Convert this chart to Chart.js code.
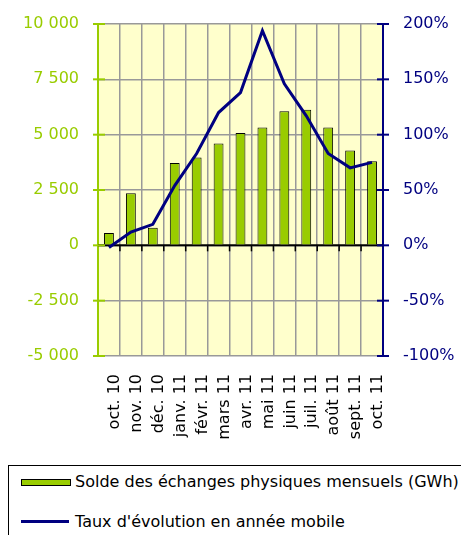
<!DOCTYPE html>
<html><head><meta charset="utf-8">
<script src="https://cdn.jsdelivr.net/npm/chart.js@4"></script>
<style>
html,body{margin:0;padding:0;background:#fff;overflow:hidden}
#wrap{position:relative;width:461px;height:535px}
#c{position:absolute;left:0;top:0}
#legend{position:absolute;left:8px;top:465px;width:470px;height:90px;border:1px solid #000;box-sizing:border-box;background:#fff;font-family:"DejaVu Sans",sans-serif;font-size:16px;color:#000}
.lab{position:absolute;left:66px;white-space:nowrap;line-height:20px}
.sw1{position:absolute;left:12px;top:13px;width:48px;height:5px;background:#99CC00;border:1px solid #000;box-sizing:content-box}
.sw2{position:absolute;left:12px;top:54px;width:48px;height:3px;background:#000080}
</style></head>
<body><div id="wrap"><canvas id="c" width="461" height="535"></canvas>
<div id="legend"><div class="sw1"></div><div class="lab" id="l1" style="top:6px"></div><div class="sw2"></div><div class="lab" id="l2" style="top:46px"></div></div></div>
<script>
const categories = ["oct. 10","nov. 10","déc. 10","janv. 11","févr. 11","mars 11","avr. 11","mai 11","juin 11","juil. 11","août 11","sept. 11","oct. 11"];
const soldeGWh = [560, 2350, 800, 3720, 3970, 4600, 5070, 5320, 6060, 6130, 5320, 4280, 3800];
const tauxPct = [-2, 12, 19, 54, 83, 120, 138, 194, 146, 117, 83, 70, 75];
const barLabel = "Solde des échanges physiques mensuels (GWh)";
const lineLabel = "Taux d'évolution en année mobile";
const leftTicks = {min:-5000, max:10000, step:2500};
const rightTicks = {min:-100, max:200, step:50};

document.getElementById('l1').textContent = barLabel;
document.getElementById('l2').textContent = lineLabel;

const FONT = '"DejaVu Sans", sans-serif';
const GREEN = '#99CC00', NAVY = '#000080', GRID = '#999999';

function fmt(v){
  const s = Math.abs(v).toString().replace(/\B(?=(\d{3})+(?!\d))/g, ' ');
  return (v<0?'-':'') + s;
}

const decor = {
  id:'decor',
  beforeDraw(chart){
    const {ctx, chartArea:a} = chart;
    ctx.save(); ctx.fillStyle='#FFFFCC'; ctx.fillRect(a.left,a.top,a.width,a.height); ctx.restore();
  },
  beforeDatasetsDraw(chart){
    const {ctx, chartArea:a, scales} = chart;
    const y0 = scales.y.getPixelForValue(0);
    const n = categories.length, w = a.width/n;
    ctx.save();
    ctx.strokeStyle='#000'; ctx.lineWidth=2;
    ctx.beginPath(); ctx.moveTo(a.left,y0); ctx.lineTo(a.right,y0); ctx.stroke();
    ctx.lineWidth=1.5;
    for(let i=1;i<n;i++){ const x=a.left+i*w; ctx.beginPath(); ctx.moveTo(x,y0); ctx.lineTo(x,y0+6); ctx.stroke(); }
    ctx.restore();
  },
  afterDraw(chart){
    const {ctx, chartArea:a, scales} = chart;
    ctx.save();
    ctx.lineWidth=2;
    ctx.strokeStyle=GREEN;
    for(let v=leftTicks.min; v<=leftTicks.max; v+=leftTicks.step){
      const y=scales.y.getPixelForValue(v);
      ctx.beginPath(); ctx.moveTo(a.left-5,y); ctx.lineTo(a.left+7,y); ctx.stroke();
    }
    ctx.strokeStyle=NAVY;
    for(let v=rightTicks.min; v<=rightTicks.max; v+=rightTicks.step){
      const y=scales.y1.getPixelForValue(v);
      ctx.beginPath(); ctx.moveTo(a.right-6,y); ctx.lineTo(a.right+6,y); ctx.stroke();
    }
    ctx.restore();
  }
};

new Chart(document.getElementById('c'), {
  data:{
    labels: categories,
    datasets:[
      {type:'line', label:lineLabel, data:tauxPct, yAxisID:'y1', borderColor:NAVY, borderWidth:3, pointRadius:0, tension:0, order:0},
      {type:'bar', label:barLabel, data:soldeGWh, yAxisID:'y', backgroundColor:GREEN, borderColor:'#000', borderWidth:1, barPercentage:0.45, categoryPercentage:1, order:1}
    ]
  },
  options:{
    responsive:false, animation:false,
    layout:{padding:{top:24,left:0,right:0,bottom:0}},
    plugins:{legend:{display:false}, tooltip:{enabled:false}},
    scales:{
      x:{
        offset:true,
        grid:{color:GRID, lineWidth:1.5, drawTicks:false, offset:true},
        border:{display:false},
        ticks:{autoSkip:false, minRotation:90, maxRotation:90, padding:18, labelOffset:6, color:'#000', font:{family:FONT, size:16}},
        afterFit(s){ s.height = 179; s.paddingLeft = 0; s.paddingRight = 0; }
      },
      y:{
        position:'left', min:leftTicks.min, max:leftTicks.max,
        grid:{color:GRID, lineWidth:1.5, drawTicks:false},
        border:{color:GREEN, width:2},
        ticks:{stepSize:leftTicks.step, padding:19, color:GREEN, font:{family:FONT, size:16}, callback:(v)=>fmt(v)},
        afterFit(s){ s.width = 98; s.paddingTop = 0; s.paddingBottom = 0; }
      },
      y1:{
        position:'right', min:rightTicks.min, max:rightTicks.max,
        grid:{drawOnChartArea:false, drawTicks:false},
        border:{color:NAVY, width:2},
        ticks:{stepSize:rightTicks.step, padding:20, color:NAVY, font:{family:FONT, size:16}, callback:(v)=>v+'%'},
        afterFit(s){ s.width = 78; s.paddingTop = 0; s.paddingBottom = 0; }
      }
    }
  },
  plugins:[decor]
});
</script></body></html>
